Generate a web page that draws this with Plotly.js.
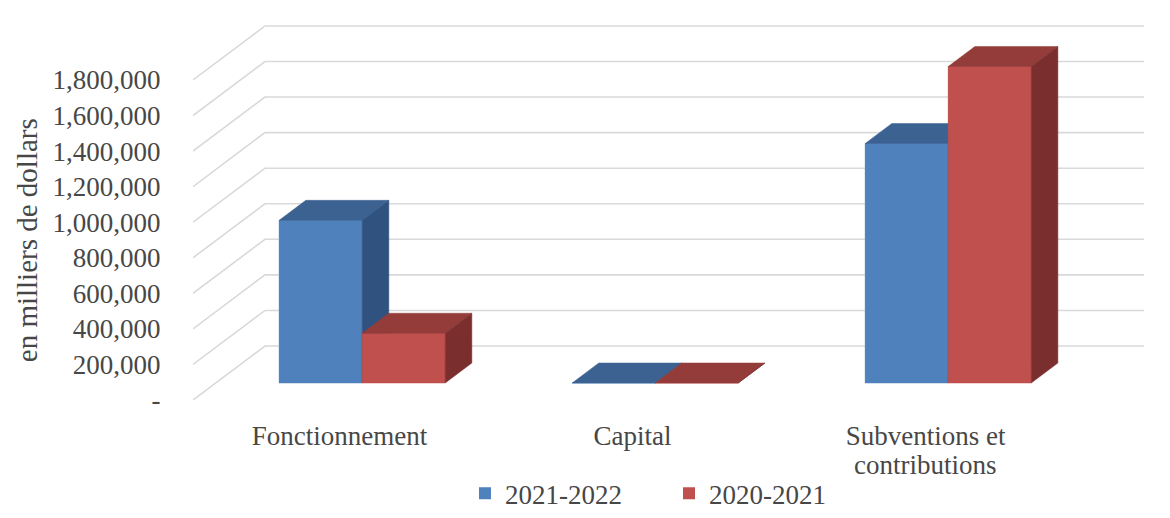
<!DOCTYPE html>
<html>
<head>
<meta charset="utf-8">
<script src="https://cdn.plot.ly/plotly-3.0.1.min.js"></script>
<style>
  html, body { margin: 0; padding: 0; background: #fff; }
  #chart { width: 1170px; height: 518px; }
</style>
</head>
<body>
<div id="chart"></div>
<script>
var categories = ['Fonctionnement', 'Capital', 'Subventions et<br>contributions'];
var seriesNames = ['2021-2022', '2020-2021'];
var values2122 = [915000, 0, 1347000];
var values2021 = [280000, 0, 1780000];
var yTicks = [0, 200000, 400000, 600000, 800000, 1000000, 1200000, 1400000, 1600000, 1800000];

// fake 3D: oblique offset of the back wall, in axis units
var DX = 0.2457, DY = 303700;
var d0 = 0.315, d1 = 0.685;   // bar depth inside the box
var barW = 0.2833;

var fronts = ['#4F81BD', '#C0504D'];
var tops = ['#3C6292', '#943C3A'];
var sides = ['#30527E', '#7A2F2E'];
var font = 'Liberation Serif, Times New Roman, serif';
var grey = '#474747';

var series = [values2122, values2021];
var traces = [];

// legend / front faces as real bars
series.forEach(function (vals, j) {
    traces.push({
        type: 'bar',
        name: seriesNames[j],
        x: categories.map(function (c, i) { return i + d0 * DX + (j - 0.5) * barW; }),
        y: vals,
        base: vals.map(function () { return d0 * DY; }),
        width: barW,
        marker: { color: fronts[j], line: { width: 0 } },
        hoverinfo: 'skip'
    });
});

// gridlines: side wall diagonal + back wall horizontal
yTicks.forEach(function (v) {
    traces.push({
        type: 'scatter', mode: 'lines',
        x: [-0.5, -0.5 + DX, 2.5 + DX],
        y: [v, v + DY, v + DY],
        line: { color: '#D9D9D9', width: 1.6 },
        showlegend: false, hoverinfo: 'skip'
    });
});

function face(xs, ys, color) {
    traces.push({
        type: 'scatter', mode: 'lines', fill: 'toself',
        x: xs, y: ys, fillcolor: color,
        line: { color: color, width: 0.5 },
        showlegend: false, hoverinfo: 'skip'
    });
}

var ddx = (d1 - d0) * DX, ddy = (d1 - d0) * DY;
categories.forEach(function (c, i) {
    series.forEach(function (vals, j) {
        var x0 = i + d0 * DX + (j - 1) * barW, x1 = x0 + barW;
        var y0 = d0 * DY, y1 = y0 + vals[i];
        face([x0, x1, x1, x0, x0], [y0, y0, y1, y1, y0], fronts[j]);
        face([x0, x1, x1 + ddx, x0 + ddx, x0], [y1, y1, y1 + ddy, y1 + ddy, y1], tops[j]);
        face([x1, x1, x1 + ddx, x1 + ddx, x1], [y0, y1, y1 + ddy, y0 + ddy, y0], sides[j]);
    });
});

// first line of each category as tick label, further lines as annotations (tighter line spacing)
var firstLines = categories.map(function (c) { return c.split('<br>')[0]; });
var annotations = [{
    text: 'en milliers de dollars', textangle: -90,
    xref: 'paper', yref: 'paper', x: -0.174, y: 0.427,
    xanchor: 'center', yanchor: 'middle', showarrow: false,
    font: { family: font, size: 29, color: grey }
}];
categories.forEach(function (c, i) {
    c.split('<br>').slice(1).forEach(function (line, k) {
        annotations.push({
            text: line, xref: 'x', yref: 'paper', x: i, y: -0.172 - 0.075 * k,
            xanchor: 'center', yanchor: 'middle', showarrow: false,
            font: { family: font, size: 27, color: grey }
        });
    });
});

var layout = {
    width: 1170, height: 518,
    margin: { l: 193, r: 25, t: 25, b: 118, autoexpand: false },
    paper_bgcolor: '#fff', plot_bgcolor: '#fff',
    barmode: 'overlay',
    font: { family: font, color: grey, size: 27 },
    xaxis: {
        range: [-0.5, 2.749],
        tickvals: [0, 1, 2], ticktext: firstLines,
        showgrid: false, zeroline: false, showline: false,
        ticks: 'outside', ticklen: 12, tickcolor: 'rgba(0,0,0,0)',
        tickfont: { family: font, size: 27, color: grey },
        automargin: false,
        fixedrange: true
    },
    yaxis: {
        range: [0, 2109000],
        tickvals: yTicks,
        ticktext: yTicks.map(function (v) { return v === 0 ? '-' : v.toLocaleString('en-US'); }),
        showgrid: false, zeroline: false, showline: false,
        ticks: 'outside', ticklen: 26, tickcolor: 'rgba(0,0,0,0)',
        tickfont: { family: font, size: 27, color: grey },
        automargin: false,
        fixedrange: true
    },
    showlegend: true,
    legend: {
        orientation: 'h', x: 0.5, xanchor: 'center', y: -0.25, yanchor: 'middle',
        font: { family: font, size: 27, color: grey },
        traceorder: 'normal', itemwidth: 30,
        entrywidth: 159, entrywidthmode: 'pixels'
    },
    annotations: annotations
};

Plotly.newPlot('chart', traces, layout, { displayModeBar: false, displaylogo: false, staticPlot: true });
</script>
</body>
</html>
